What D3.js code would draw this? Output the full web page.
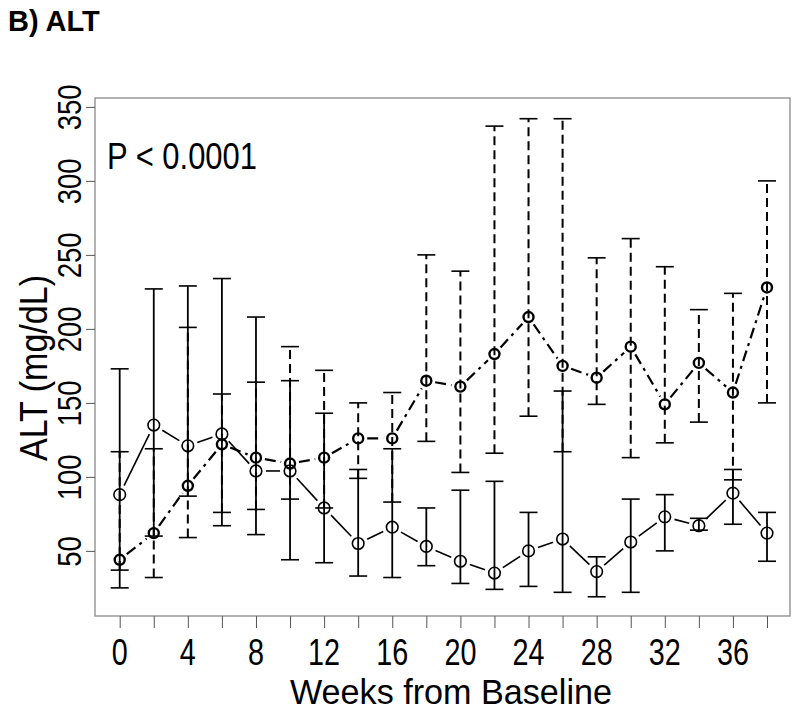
<!DOCTYPE html>
<html>
<head>
<meta charset="utf-8">
<script src="https://cdnjs.cloudflare.com/ajax/libs/d3/7.8.5/d3.min.js"></script>
<style>
  body { margin: 0; background: #fff; }
  text { font-family: "Liberation Sans", Arial, sans-serif; fill: #000; }
</style>
</head>
<body>
<div id="chart"></div>
<script>
var weeks = [0, 2, 4, 6, 8, 10, 12, 14, 16, 18, 20, 22, 24, 26, 28, 30, 32, 34, 36, 38];

// solid series
var solidMean = [88, 135, 121, 129, 104, 104, 79, 55, 66, 53, 43, 35, 50, 58, 36, 56, 73, 67, 89, 62];
var solidLow  = [25, 60, 87, 67, 61, 44, 42, 33, 32, 40, 28, 24, 26, 22, 19, 22, 50, 64, 68, 43];
var solidHigh = [173, 227, 229, 234, 208, 165, 143, 105, 119, 79, 91, 97, 76, 158, 46, 85, 88, 72, 105, 76];

// dashed series
var dashMean = [44, 62, 94, 122, 113, 109, 113, 126, 126, 165, 161, 183, 208, 175, 167, 188, 149, 177, 157, 228];
var dashLow  = [37, 32, 59, 76, 78, 85, 79, 99, 83, 124, 103, 116, 141, 117, 149, 113, 123, 137, 98, 150];
var dashHigh = [117, 119, 201, 156, 164, 188, 172, 150, 157, 250, 239, 337, 342, 342, 248, 261, 242, 213, 224, 300];

var xTicks = [0, 4, 8, 12, 16, 20, 24, 28, 32, 36];
var yTicks = [50, 100, 150, 200, 250, 300, 350];

var svgWidth = 800;
var svgHeight = 712;
var margin = { top: 98, right: 10, bottom: 96, left: 95 };
var width = svgWidth - margin.left - margin.right;
var height = svgHeight - margin.top - margin.bottom;

var svg = d3.select("#chart")
  .append("svg")
  .attr("width", svgWidth)
  .attr("height", svgHeight);

svg.append("text")
  .attr("x", 8)
  .attr("y", 31)
  .style("font-size", "29px")
  .style("font-weight", "bold")
  .text("B) ALT");

var chartGroup = svg.append("g")
  .attr("transform", `translate(${margin.left}, ${margin.top})`);

var xScale = d3.scaleLinear().domain([-1.45, 39.35]).range([0, width]);
var yScale = d3.scaleLinear().domain([6, 356]).range([height, 0]);

// frame
chartGroup.append("rect")
  .attr("width", width)
  .attr("height", height)
  .attr("fill", "none")
  .attr("stroke", "#999")
  .attr("stroke-width", 1.5);

// y axis (ticks outside, rotated labels)
var yAxis = chartGroup.append("g")
  .call(d3.axisLeft(yScale).tickValues(yTicks).tickSize(9).tickSizeOuter(0).tickPadding(4));
yAxis.select(".domain").remove();
yAxis.selectAll("line").attr("stroke", "#555");
yAxis.selectAll("text")
  .attr("x", null).attr("dy", null)
  .attr("transform", "translate(-14,0) rotate(-90)")
  .attr("text-anchor", "middle")
  .attr("textLength", d => String(d).length * 15.3)
  .attr("lengthAdjust", "spacingAndGlyphs")
  .style("font-size", "33px")
  .style("font-family", "'Liberation Sans', Arial, sans-serif");

// x axis
var xAxis = chartGroup.append("g")
  .attr("transform", `translate(0, ${height})`)
  .call(d3.axisBottom(xScale).tickValues(weeks).tickSize(12).tickSizeOuter(0).tickFormat(""));
xAxis.select(".domain").remove();
xAxis.selectAll("line").attr("stroke", "#555");

chartGroup.append("g")
  .selectAll("text")
  .data(xTicks)
  .enter()
  .append("text")
  .attr("x", d => xScale(d))
  .attr("y", height + 49)
  .attr("text-anchor", "middle")
  .style("font-size", "36px")
  .attr("textLength", d => String(d).length * 16)
  .attr("lengthAdjust", "spacingAndGlyphs")
  .text(d => d);

chartGroup.append("text")
  .attr("x", 356)
  .attr("y", height + 88)
  .attr("text-anchor", "middle")
  .attr("textLength", 322)
  .attr("lengthAdjust", "spacingAndGlyphs")
  .style("font-size", "35px")
  .text("Weeks from Baseline");

svg.append("text")
  .attr("transform", "translate(47, 368) rotate(-90)")
  .attr("text-anchor", "middle")
  .attr("textLength", 186)
  .attr("lengthAdjust", "spacingAndGlyphs")
  .style("font-size", "38px")
  .text("ALT (mg/dL)");

chartGroup.append("text")
  .attr("x", 12)
  .attr("y", 71)
  .attr("textLength", 150)
  .attr("lengthAdjust", "spacingAndGlyphs")
  .style("font-size", "36px")
  .text("P < 0.0001");

function rows(mean, low, high) {
  return weeks.map((w, i) => ({ w: w, m: mean[i], lo: low[i], hi: high[i] }));
}

function drawSeries(data, opt) {
  var g = chartGroup.append("g");

  // error bars
  g.selectAll(".bar")
    .data(data)
    .enter()
    .append("line")
    .attr("x1", d => xScale(d.w))
    .attr("x2", d => xScale(d.w))
    .attr("y1", d => yScale(d.lo))
    .attr("y2", d => yScale(d.hi))
    .attr("stroke", "#000")
    .attr("stroke-width", opt.barWidth)
    .attr("stroke-dasharray", opt.barDash);

  ["lo", "hi"].forEach(function(k) {
    g.selectAll(".cap-" + k)
      .data(data)
      .enter()
      .append("line")
      .attr("x1", d => xScale(d.w) - 9)
      .attr("x2", d => xScale(d.w) + 9)
      .attr("y1", d => yScale(d[k]))
      .attr("y2", d => yScale(d[k]))
      .attr("stroke", "#000")
      .attr("stroke-width", 1.6);
  });

  // connecting segments, cut short around each point
  var segs = d3.pairs(data).map(function(p) {
    var x1 = xScale(p[0].w), y1 = yScale(p[0].m);
    var x2 = xScale(p[1].w), y2 = yScale(p[1].m);
    var len = Math.hypot(x2 - x1, y2 - y1);
    var ux = (x2 - x1) / len, uy = (y2 - y1) / len;
    return { x1: x1 + ux * opt.gap, y1: y1 + uy * opt.gap, x2: x2 - ux * opt.gap, y2: y2 - uy * opt.gap, len: len };
  }).filter(s => s.len > opt.gap * 2);

  g.selectAll(".seg")
    .data(segs)
    .enter()
    .append("line")
    .attr("x1", d => d.x1)
    .attr("y1", d => d.y1)
    .attr("x2", d => d.x2)
    .attr("y2", d => d.y2)
    .attr("stroke", "#000")
    .attr("stroke-width", opt.lineWidth)
    .attr("stroke-dasharray", opt.lineDash);

  g.selectAll("circle")
    .data(data)
    .enter()
    .append("circle")
    .attr("cx", d => xScale(d.w))
    .attr("cy", d => yScale(d.m))
    .attr("r", opt.r)
    .attr("fill", "none")
    .attr("stroke", "#000")
    .attr("stroke-width", opt.circleWidth);
}

drawSeries(rows(solidMean, solidLow, solidHigh), {
  barWidth: 1.8, barDash: null, lineWidth: 1.6, lineDash: null, gap: 10, r: 5.8, circleWidth: 1.6
});

drawSeries(rows(dashMean, dashLow, dashHigh), {
  barWidth: 2, barDash: "9 5", lineWidth: 2.2, lineDash: "11 5 3 5", gap: 9, r: 5, circleWidth: 2.4
});
</script>
</body>
</html>
